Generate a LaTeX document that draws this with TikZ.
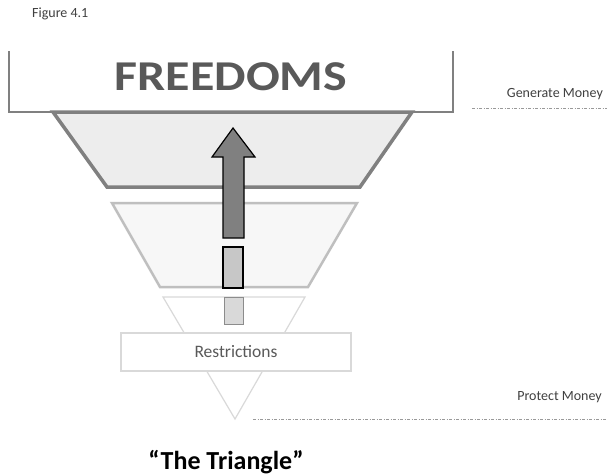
\documentclass[tikz,border=0pt]{standalone}
\usepackage{fontspec}
\setmainfont{Carlito}
\usepackage{tikz}
\usetikzlibrary{positioning}
\usepackage{xcolor}
\definecolor{darkline}{HTML}{808080}
\definecolor{midline}{HTML}{BFBFBF}
\definecolor{paleline}{HTML}{D9D9D9}
\definecolor{labelgray}{HTML}{595959}

\tikzset{
  levelone/.style={draw=darkline,line width=3.5pt,fill=black!7,line join=miter},
  leveltwo/.style={draw=midline,line width=2.5pt,fill=black!3},
  levelthree/.style={draw=paleline,line width=1.2pt,fill=white},
  moneyline/.style={draw=black!40,line width=0.6pt,dash pattern=on 3pt off 1.5pt on 1pt off 1.5pt},
  smalltext/.style={text=black!75,font=\fontsize{14}{16}\selectfont,inner sep=0pt}
}

\begin{document}
\begin{tikzpicture}[x=1pt,y=-1pt]
  \useasboundingbox[fill=white] (0,0) rectangle (607,475);

  % lowest level and the restrictions bar
  \draw[levelthree] (163,297) -- (305,297) -- (235,419) -- cycle;
  \node[draw=paleline,line width=2.5pt,fill=white,minimum width=230pt,minimum height=38pt,
        text=labelgray,font=\fontsize{17.5}{20}\selectfont] (restr) at (236,352) {Restrictions};

  % middle and upper levels
  \draw[leveltwo] (112,203) -- (357,203) -- (308,287) -- (160,287) -- cycle;
  \draw[levelone] (53,112) -- (412,112) -- (360,187) -- (107,187) -- cycle;

  % freedoms box, open at the top
  \draw[darkline,line width=1.8pt] (9,51) -- (9,112) -- (453,112) -- (453,51);
  \node[text=labelgray,font=\bfseries\fontsize{50}{54}\selectfont] (free) at (231,77) {\scalebox{1}[0.85]{FREEDOMS}};

  % rising arrow and its steps
  \draw[fill=darkline,line width=1.2pt,line join=miter] (233,128) -- (255,157) -- (244,157) -- (244,238)
    -- (223,238) -- (223,157) -- (212,157) -- cycle;
  \draw[fill=black!22,line width=1.2pt] (223,247) rectangle (243,288);
  \draw[draw=black!45,fill=black!15,line width=0.8pt] (224,297) rectangle (243,324);

  % money lines
  \coordinate (genL) at (472,108);
  \coordinate (genR) at (607,108);
  \coordinate (proL) at (253,419);
  \coordinate (proR) at (607,419);
  \draw[moneyline] (genL) -- (genR);
  \draw[moneyline] (proL) -- (proR);
  \node[smalltext,anchor=south east] (gen) at (603,100) {Generate Money};
  \node[smalltext,anchor=south east] (pro) at (602,403) {Protect Money};

  \node[smalltext,anchor=west] (fig) at (32,14) {Figure 4.1};
  \node[font=\bfseries\fontsize{26}{30}\selectfont] (title) at (226,462) {“The Triangle”};
\end{tikzpicture}
\end{document}
